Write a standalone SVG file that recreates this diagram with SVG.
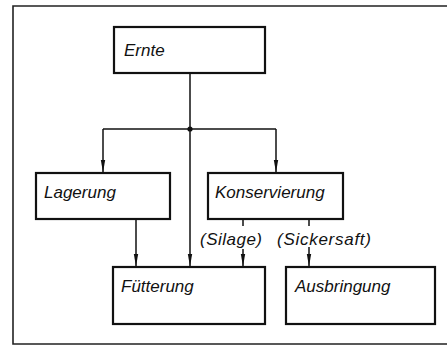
<svg xmlns="http://www.w3.org/2000/svg" width="447" height="347" viewBox="0 0 447 347">
<style>
.box{fill:#fff;stroke:#111;stroke-width:2.2}
.lbl{font-family:"Liberation Sans",Arial,sans-serif;font-style:italic;font-size:17px;fill:#111}
.ln{fill:none;stroke:#111;stroke-width:1.5}
.frame{fill:none;stroke:#222;stroke-width:1.6}
</style>
<defs>
<marker id="ad" viewBox="0 0 12 6" refX="12" refY="3" markerWidth="12" markerHeight="6" markerUnits="userSpaceOnUse" orient="auto">
<path d="M0,0.8 L12,3 L0,5.2 Z" fill="#111"/>
</marker>
</defs>
<path class="frame" d="M447,6 H13 V344 H447"/>
<g id="connectors">
<line class="ln" x1="190" y1="73" x2="190" y2="129"/>
<line class="ln" x1="103" y1="129" x2="276" y2="129"/>
<circle cx="190" cy="129" r="2.6" fill="#111"/>
<line class="ln" x1="103" y1="129" x2="103" y2="172" marker-end="url(#ad)"/>
<line class="ln" x1="276" y1="129" x2="276" y2="172" marker-end="url(#ad)"/>
<line class="ln" x1="190" y1="129" x2="190" y2="266" marker-end="url(#ad)"/>
<line class="ln" x1="136" y1="219" x2="136" y2="266" marker-end="url(#ad)"/>
<line class="ln" x1="243" y1="219" x2="243" y2="226"/>
<line class="ln" x1="243" y1="249" x2="243" y2="266" marker-end="url(#ad)"/>
<line class="ln" x1="309" y1="219" x2="309" y2="226"/>
<line class="ln" x1="309" y1="247" x2="309" y2="266" marker-end="url(#ad)"/>
<text class="lbl" x="200" y="245" textLength="62">(Silage)</text>
<text class="lbl" x="277" y="245" textLength="94">(Sickersaft)</text>
</g>
<g id="ernte"><rect class="box" x="114" y="27" width="151" height="46"/><text class="lbl" x="124" y="56">Ernte</text></g>
<g id="lagerung"><rect class="box" x="36" y="173" width="134" height="46"/><text class="lbl" x="44" y="198">Lagerung</text></g>
<g id="konservierung"><rect class="box" x="208" y="173" width="135" height="46"/><text class="lbl" x="215" y="198">Konservierung</text></g>
<g id="fuetterung"><rect class="box" x="113" y="267" width="152" height="57"/><text class="lbl" x="121" y="292">Fütterung</text></g>
<g id="ausbringung"><rect class="box" x="286" y="267" width="149" height="57"/><text class="lbl" x="295" y="292">Ausbringung</text></g>
</svg>
